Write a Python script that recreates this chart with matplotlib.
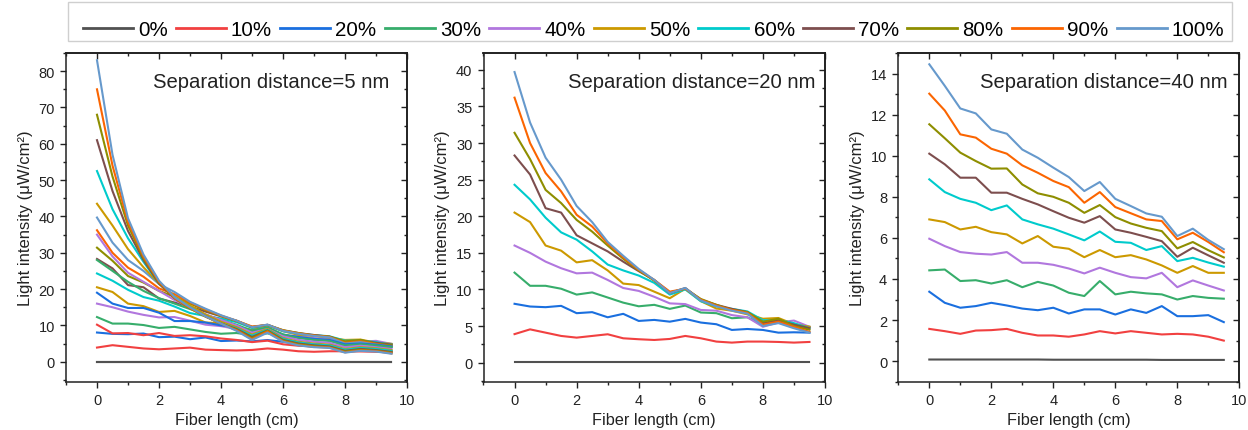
import matplotlib
matplotlib.use("Agg")
import matplotlib.pyplot as plt
from matplotlib.ticker import MultipleLocator
from matplotlib.lines import Line2D
from matplotlib.patches import Rectangle

plt.rcParams['font.family'] = ['Liberation Sans', 'DejaVu Sans']

fiber_length = [0, 0.5, 1, 1.5, 2, 2.5, 3, 3.5, 4, 4.5, 5, 5.5, 6, 6.5, 7, 7.5, 8, 8.5, 9, 9.5]
labels = ["0%", "10%", "20%", "30%", "40%", "50%", "60%", "70%", "80%", "90%", "100%"]
colors = ["#515151", "#F14040", "#1A6FDF", "#37AD6B", "#B177DE", "#CC9900",
          "#00CBCC", "#7D4E4E", "#8E8E00", "#FB6501", "#6699CC"]

# Separation distance = 5 nm
d5_0 = [0.05] * 20
d5_10 = [10.2, 7.8, 7.9, 7.3, 7.9, 7.1, 7.3, 7.0, 6.4, 6.0, 5.4, 5.8, 4.8, 4.4, 4.2, 4.0, 3.0, 3.3, 3.1, 2.8]
d5_20 = [19.0, 16.0, 14.8, 14.8, 13.5, 11.2, 11.2, 10.8, 10.0, 9.5, 8.5, 9.3, 7.5, 6.8, 6.3, 6.0, 4.8, 5.0, 4.7, 4.2]
d5_30 = [28.0, 25.0, 22.0, 19.5, 17.5, 16.0, 14.5, 13.0, 11.5, 10.2, 8.5, 9.5, 7.5, 6.5, 6.0, 5.7, 4.5, 4.8, 4.5, 4.0]
d5_40 = [35.0, 29.0, 24.5, 22.0, 19.5, 17.0, 15.0, 13.0, 11.5, 10.0, 8.0, 9.0, 7.0, 6.0, 5.5, 5.2, 4.0, 4.4, 4.0, 3.5]
d5_50 = [43.5, 37.5, 31.0, 26.0, 21.5, 18.0, 15.5, 13.0, 11.0, 9.5, 7.5, 9.0, 6.5, 5.5, 5.0, 4.7, 3.5, 4.0, 3.7, 3.2]
d5_60 = [52.5, 42.0, 34.0, 27.5, 21.5, 17.8, 15.0, 12.6, 10.6, 9.2, 7.2, 8.8, 6.3, 5.3, 4.8, 4.5, 3.3, 3.8, 3.5, 3.0]
d5_70 = [61.0, 47.0, 36.0, 28.0, 21.5, 17.5, 14.8, 12.5, 10.5, 9.0, 6.8, 8.6, 6.0, 5.0, 4.5, 4.2, 3.0, 3.5, 3.2, 2.7]
d5_80 = [68.0, 51.0, 37.5, 28.5, 21.8, 17.5, 14.7, 12.4, 10.5, 8.8, 6.5, 8.5, 5.8, 4.8, 4.3, 4.0, 2.8, 3.3, 3.0, 2.5]
d5_90 = [75.0, 54.0, 38.5, 29.0, 22.0, 17.6, 14.8, 12.5, 10.5, 8.7, 6.2, 8.3, 5.6, 4.6, 4.1, 3.9, 2.6, 3.1, 2.9, 2.3]
d5_100 = [83.0, 57.0, 39.5, 29.5, 22.3, 17.8, 15.0, 12.5, 10.5, 8.5, 6.0, 8.0, 5.5, 4.5, 4.0, 3.8, 2.5, 3.0, 2.8, 2.2]

# Separation distance = 20 nm
d20_0 = [0.05] * 20
d20_10 = [3.9, 4.55, 4.1, 3.65, 3.42, 3.65, 3.88, 3.33, 3.2, 3.1, 3.24, 3.65, 3.33, 2.88, 2.74, 2.88, 2.88, 2.83, 2.74, 2.83]
d20_20 = [8.04, 7.67, 7.58, 7.76, 6.76, 6.9, 6.2, 6.67, 5.7, 5.84, 5.6, 5.98, 5.48, 5.25, 4.47, 4.6, 4.47, 4.1, 4.15, 4.1]
d20_30 = [12.3, 10.5, 10.5, 10.1, 9.3, 9.6, 8.9, 8.2, 7.7, 7.9, 7.35, 7.8, 6.85, 6.76, 6.07, 6.2, 5.16, 5.6, 5.16, 4.9]
d20_40 = [16.0, 15.0, 13.8, 12.9, 12.2, 12.3, 11.3, 10.2, 9.8, 9.0, 8.1, 8.0, 7.2, 7.1, 6.5, 6.2, 4.9, 5.5, 5.75, 4.9]
d20_50 = [20.5, 19.2, 16.0, 15.3, 13.7, 14.0, 12.6, 10.8, 10.6, 9.7, 8.8, 10.1, 8.4, 7.4, 7.1, 6.6, 6.0, 6.1, 5.25, 4.9]
d20_60 = [24.3, 22.3, 19.8, 17.8, 16.8, 15.2, 13.4, 12.6, 11.9, 10.9, 9.3, 10.0, 8.4, 7.7, 7.35, 7.0, 5.8, 5.8, 5.4, 4.7]
d20_70 = [28.3, 25.7, 21.1, 20.5, 17.4, 16.3, 15.2, 13.8, 12.5, 11.3, 9.5, 10.2, 8.6, 7.9, 7.35, 6.9, 5.4, 5.8, 5.2, 4.7]
d20_80 = [31.4, 27.8, 23.6, 21.8, 19.5, 17.9, 16.0, 14.2, 12.6, 11.2, 9.6, 10.1, 8.7, 7.9, 7.2, 6.9, 5.6, 6.0, 5.0, 4.5]
d20_90 = [36.2, 30.0, 25.9, 23.4, 20.2, 18.6, 16.3, 14.4, 12.7, 11.3, 9.7, 10.1, 8.6, 7.8, 7.2, 6.8, 5.2, 5.6, 4.9, 4.2]
d20_100 = [39.7, 32.8, 28.0, 25.0, 21.4, 19.2, 16.5, 14.6, 12.8, 11.3, 9.5, 10.2, 8.5, 7.7, 7.1, 6.7, 5.0, 5.4, 4.7, 4.1]

# Separation distance = 40 nm
d40_0 = [0.08, 0.08, 0.08, 0.08, 0.08, 0.08, 0.08, 0.08, 0.07, 0.07, 0.07, 0.07, 0.07, 0.07, 0.07, 0.06, 0.06, 0.06, 0.06, 0.06]
d40_10 = [1.57, 1.46, 1.33, 1.49, 1.51, 1.57, 1.38, 1.25, 1.25, 1.19, 1.3, 1.46, 1.35, 1.46, 1.38, 1.3, 1.33, 1.3, 1.19, 1.0]
d40_20 = [3.38, 2.84, 2.6, 2.68, 2.84, 2.71, 2.56, 2.48, 2.6, 2.32, 2.52, 2.52, 2.27, 2.52, 2.35, 2.68, 2.19, 2.19, 2.24, 1.9]
d40_30 = [4.42, 4.46, 3.9, 3.94, 3.78, 3.94, 3.6, 3.86, 3.68, 3.33, 3.17, 3.9, 3.25, 3.38, 3.3, 3.25, 3.0, 3.17, 3.08, 3.04]
d40_40 = [5.96, 5.6, 5.31, 5.23, 5.19, 5.31, 4.79, 4.79, 4.69, 4.51, 4.27, 4.55, 4.3, 4.09, 4.03, 4.3, 3.6, 3.93, 3.68, 3.44]
d40_50 = [6.9, 6.77, 6.41, 6.54, 6.28, 6.17, 5.73, 6.09, 5.57, 5.47, 5.06, 5.41, 5.06, 5.16, 4.95, 4.66, 4.3, 4.63, 4.3, 4.3]
d40_60 = [8.85, 8.23, 7.9, 7.71, 7.35, 7.58, 6.9, 6.66, 6.45, 6.17, 5.88, 6.31, 5.81, 5.76, 5.41, 5.6, 4.87, 5.03, 4.8, 4.6]
d40_70 = [10.1, 9.58, 8.93, 8.93, 8.2, 8.2, 7.9, 7.63, 7.3, 6.98, 6.74, 7.06, 6.41, 6.25, 6.05, 5.84, 5.08, 5.52, 5.15, 4.79]
d40_80 = [11.53, 10.85, 10.15, 9.74, 9.37, 9.38, 8.6, 8.17, 8.0, 7.71, 7.22, 7.6, 7.01, 6.7, 6.49, 6.33, 5.49, 5.8, 5.4, 5.05]
d40_90 = [13.02, 12.2, 11.04, 10.88, 10.34, 10.1, 9.53, 9.17, 8.77, 8.47, 7.71, 8.23, 7.5, 7.2, 6.9, 6.82, 5.93, 6.25, 5.8, 5.3]
d40_100 = [14.45, 13.4, 12.3, 12.06, 11.28, 11.07, 10.3, 9.9, 9.42, 8.96, 8.28, 8.72, 7.9, 7.55, 7.19, 7.03, 6.09, 6.45, 5.9, 5.45]

series_5 = [d5_0, d5_10, d5_20, d5_30, d5_40, d5_50, d5_60, d5_70, d5_80, d5_90, d5_100]
series_20 = [d20_0, d20_10, d20_20, d20_30, d20_40, d20_50, d20_60, d20_70, d20_80, d20_90, d20_100]
series_40 = [d40_0, d40_10, d40_20, d40_30, d40_40, d40_50, d40_60, d40_70, d40_80, d40_90, d40_100]

fig = plt.figure(figsize=(12.48, 4.31), dpi=100)
W, H = 1248.0, 431.0


def make_ax(left_px, right_px):
    top_px, bot_px = 54.0, 382.7
    return fig.add_axes([left_px / W, 1 - bot_px / H, (right_px - left_px) / W, (bot_px - top_px) / H])


ax1 = make_ax(66, 407)
ax2 = make_ax(483.5, 825)
ax3 = make_ax(898.3, 1239.3)

lw = 1.5
for s, c in zip(series_20, colors):
    ax1.plot(fiber_length, s, color=c, lw=lw)
for s, c in zip(series_5, colors):
    ax1.plot(fiber_length, s, color=c, lw=lw)
for s, c in zip(series_20, colors):
    ax2.plot(fiber_length, s, color=c, lw=lw)
for s, c in zip(series_40, colors):
    ax3.plot(fiber_length, s, color=c, lw=lw)

cfg = [
    (ax1, (-5.5, 85), 10, 5, "Separation distance=5 nm", 0.947),
    (ax2, (-2.6, 42.3), 5, 2.5, "Separation distance=20 nm", 0.971),
    (ax3, (-1.0, 15.0), 2, 1, "Separation distance=40 nm", 0.967),
]
for ax, ylim, maj, mnr, title, tx in cfg:
    ax.set_xlim(-1, 10)
    ax.set_ylim(*ylim)
    ax.xaxis.set_major_locator(MultipleLocator(2))
    ax.xaxis.set_minor_locator(MultipleLocator(1))
    ax.yaxis.set_major_locator(MultipleLocator(maj))
    ax.yaxis.set_minor_locator(MultipleLocator(mnr))
    ax.tick_params(which='both', direction='out', labelsize=10.5, colors='#222222', width=1)
    ax.tick_params(which='major', length=4.5)
    ax.tick_params(which='minor', length=2.5)
    for sp in ax.spines.values():
        sp.set_linewidth(1.1)
        sp.set_color('#222222')
    sx = ax.secondary_xaxis('top')
    sx.xaxis.set_major_locator(MultipleLocator(2))
    sx.xaxis.set_minor_locator(MultipleLocator(1))
    sx.tick_params(which='both', direction='in', labeltop=False, width=1, colors='#222222')
    sx.tick_params(which='major', length=4.5)
    sx.tick_params(which='minor', length=2.5)
    sx.spines['top'].set_linewidth(1.1)
    sy = ax.secondary_yaxis('right')
    sy.yaxis.set_major_locator(MultipleLocator(maj))
    sy.yaxis.set_minor_locator(MultipleLocator(mnr))
    sy.tick_params(which='both', direction='in', labelright=False, width=1, colors='#222222')
    sy.tick_params(which='major', length=4.5)
    sy.tick_params(which='minor', length=2.5)
    sy.spines['right'].set_linewidth(1.1)
    ax.set_xlabel("Fiber length (cm)", fontsize=11.7, color='#222222', labelpad=4)
    ax.set_ylabel("Light intensity (μW/cm²)", fontsize=12.0, color='#222222', labelpad=4)
    ax.text(tx, 1 - (88 - 54) / 328.7, title, transform=ax.transAxes, ha='right', va='baseline',
            fontsize=14.6, color='#222222')

# legend frame
fig.patches.append(Rectangle((68 / W, 1 - 42 / H), (1232 - 68) / W, 39 / H,
                             transform=fig.transFigure, fill=False,
                             edgecolor='#cfcfcf', lw=1.0))

handles = [Line2D([], [], color=c, lw=2) for c in colors]
fs = 14.8
fig.legend(handles, labels, loc='center', bbox_to_anchor=(653.5 / W, 1 - 30.5 / H),
           ncol=11, fontsize=fs, frameon=False,
           handlelength=50 / (fs * 100 / 72), handletextpad=0.25, columnspacing=0.4,
           borderpad=0.0, borderaxespad=0)

fig.savefig("out.png", dpi=100)
